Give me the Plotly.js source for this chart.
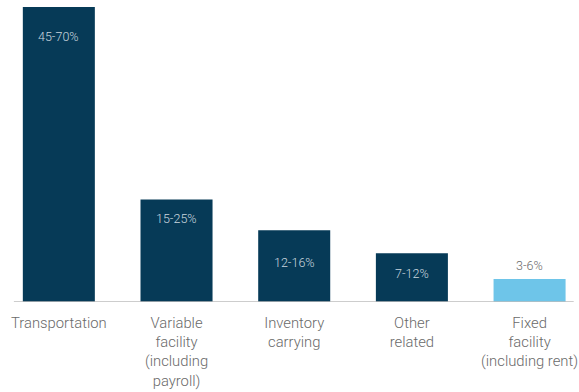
<!DOCTYPE html>
<html><head><meta charset="utf-8">
<script src="https://cdn.plot.ly/plotly-3.0.1.min.js"></script>
<style>html,body{margin:0;padding:0;background:#fff;}#chart{width:579px;height:392px;}</style>
</head><body><div id="chart"></div>
<script>
const categories = ["Transportation", "Variable<br>facility<br>(including<br>payroll)", "Inventory<br>carrying", "Other<br>related", "Fixed<br>facility<br>(including rent)"];
const values = [57.5, 20, 14, 9.5, 4.5];
const rangeLabels = ["45-70%", "15-25%", "12-16%", "7-12%", "3-6%"];
const highlight = [false, false, false, false, true];

const dark = "#063a57", light = "#6ec5e9";
const xs = categories.map((c, i) => i);
const labelShift = [-29, -19, -32, -20, 13];

const trace = {
  type: "bar",
  x: xs,
  y: values,
  marker: {color: highlight.map(h => h ? light : dark)},
  width: 0.612,
  hoverinfo: "none"
};

const annotations = values.map((v, i) => ({
  x: i, y: v, xref: "x", yref: "y",
  text: rangeLabels[i], showarrow: false,
  yshift: labelShift[i],
  font: {family: "Roboto, sans-serif", size: 12.5, weight: 300, color: highlight[i] ? "#6a6a6a" : "#c9d6df"}
}));

const layout = {
  width: 579, height: 392,
  margin: {l: 0, r: 0, t: 7, b: 90},
  paper_bgcolor: "#ffffff", plot_bgcolor: "#ffffff",
  showlegend: false,
  xaxis: {
    range: [-0.5, 4.42],
    tickvals: xs, ticktext: categories,
    showgrid: false, zeroline: false, showline: false,
    ticks: "", ticklen: 0, ticklabelstandoff: 10,
    tickfont: {family: "Roboto, sans-serif", size: 14.8, weight: 300, color: "#6a6a6a"},
    fixedrange: true
  },
  yaxis: {
    range: [0, 57.5], visible: false, fixedrange: true
  },
  shapes: [{
    type: "line", xref: "x", yref: "y",
    x0: -0.382, x1: 4.375, y0: 0, y1: 0,
    line: {color: "#bdbdbd", width: 1.5}
  }],
  annotations: annotations
};

Plotly.newPlot("chart", [trace], layout, {staticPlot: true, displayModeBar: false});
</script>
</body></html>
